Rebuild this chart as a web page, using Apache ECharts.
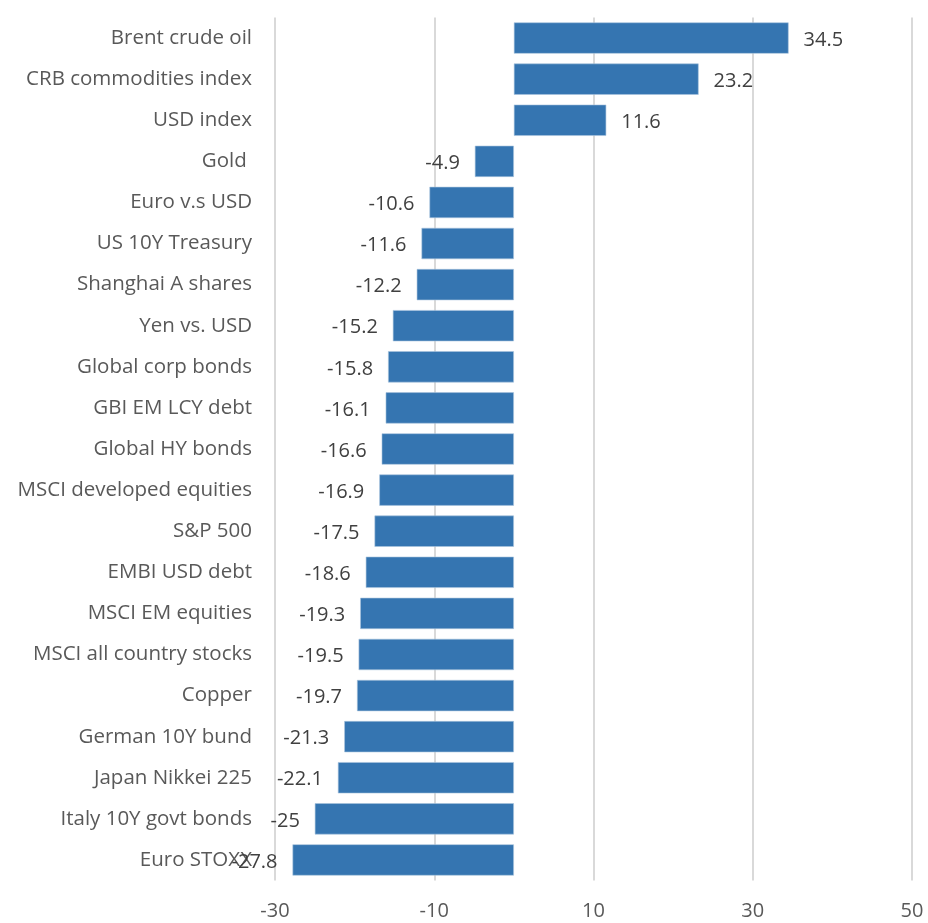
<!DOCTYPE html>
<html>
<head>
<meta charset="utf-8">
<script src="https://cdn.jsdelivr.net/npm/echarts@6/dist/echarts.min.js"></script>
<style>html,body{margin:0;padding:0;background:#fff}#c{width:928px;height:923px}</style>
</head>
<body>
<div id="c"></div>
<script>
const categories = ["Brent crude oil","CRB commodities index","USD index","Gold ","Euro v.s USD","US 10Y Treasury","Shanghai A shares","Yen vs. USD","Global corp bonds","GBI EM LCY debt","Global HY bonds","MSCI developed equities","S&P 500","EMBI USD debt","MSCI EM equities","MSCI all country stocks","Copper","German 10Y bund","Japan Nikkei 225","Italy 10Y govt bonds","Euro STOXX"];
const values = [34.5,23.2,11.6,-4.9,-10.6,-11.6,-12.2,-15.2,-15.8,-16.1,-16.6,-16.9,-17.5,-18.6,-19.3,-19.5,-19.7,-21.3,-22.1,-25,-27.8];
const xTicks = [-30,-10,10,30,50];

const FONT = '"Open Sans", "Noto Sans", sans-serif';
const chart = echarts.init(document.getElementById('c'), null, {renderer:'canvas'});
chart.setOption({
  animation:false,
  backgroundColor:'#fff',
  grid:{left:275,right:16,top:17.5,bottom:42.5,containLabel:false},
  xAxis:{type:'value',min:xTicks[0],max:xTicks[xTicks.length-1],interval:20,
    axisLine:{show:false},axisTick:{show:false},
    splitLine:{lineStyle:{color:'#d9d9d9',width:2}},
    axisLabel:{fontFamily:FONT,fontSize:20,color:'#595959',margin:21}},
  yAxis:{type:'category',data:categories,inverse:true,
    axisLine:{show:false,onZero:false},axisTick:{show:false},splitLine:{show:false},
    axisLabel:{fontFamily:FONT,fontSize:20.5,color:'#595959',margin:23}},
  series:[{type:'bar',barWidth:'76%',
    data:values.map(v=>({value:v,label:{position:v>=0?'right':'left'}})),
    itemStyle:{color:'#3575B1',borderColor:'#a9c4de',borderWidth:0.6},
    label:{show:true,fontFamily:FONT,fontSize:20,color:'#404040',distance:15,offset:[0,2]}
  }]
});
</script>
</body>
</html>
